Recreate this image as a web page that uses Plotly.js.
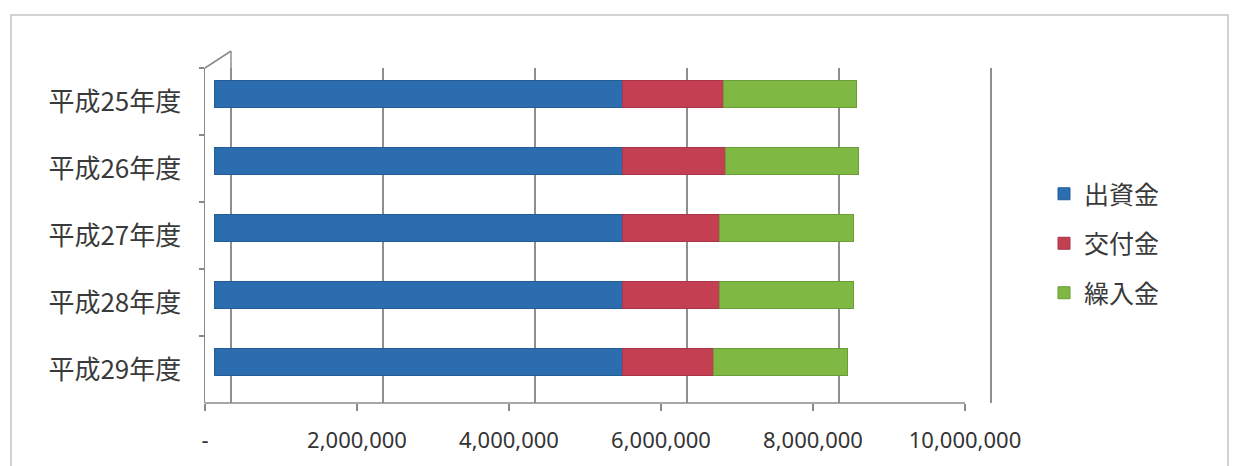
<!DOCTYPE html>
<html>
<head>
<meta charset="utf-8">
<script src="https://cdn.plot.ly/plotly-3.0.1.min.js"></script>
<style>
  html, body { margin: 0; padding: 0; background: #ffffff; }
  #chart { width: 1235px; height: 466px; }
</style>
</head>
<body>
<div id="chart"></div>
<script>
// ---- data ----
const categories = ['平成25年度', '平成26年度', '平成27年度', '平成28年度', '平成29年度'];
const seriesNames = ['出資金', '交付金', '繰入金'];
const shusshikin = [5380000, 5380000, 5380000, 5380000, 5380000];
const kofukin    = [1330000, 1350000, 1270000, 1270000, 1190000];
const kurireikin = [1740000, 1750000, 1760000, 1760000, 1760000];
const xTickVals  = [0, 2000000, 4000000, 6000000, 8000000, 10000000];
const xTickText  = ['-', '2,000,000', '4,000,000', '6,000,000', '8,000,000', '10,000,000'];
const gridVals   = [0, 2000000, 4000000, 6000000, 8000000, 10000000];

const colors = ['#2c6db0', '#c53f52', '#7fb843'];
const edgeColors = ['#245c96', '#a8354a', '#6a9c37'];
const values = [shusshikin, kofukin, kurireikin];

const traces = values.map((v, i) => ({
  type: 'bar',
  orientation: 'h',
  name: seriesNames[i],
  x: v,
  y: categories,
  xaxis: 'x2',
  yaxis: 'y2',
  width: 0.4,
  legendgroup: 'g' + i,
  marker: { color: colors[i], line: { width: 1, color: edgeColors[i] } },
  hoverinfo: 'x+y+name'
}));

// invisible helper traces so the front axis and the back-wall grid axis are drawn
traces.push({
  type: 'scatter', mode: 'none', x: [xTickVals[0]], y: [categories[0]],
  xaxis: 'x', yaxis: 'y', showlegend: false, hoverinfo: 'skip'
});
traces.push({
  type: 'scatter', mode: 'none', x: [gridVals[0]], y: [categories[0]],
  xaxis: 'x3', yaxis: 'y', showlegend: false, hoverinfo: 'skip'
});

// pixel geometry of the front plane
const L = 205, R = 1000, T = 68, B = 403;
const pxPerUnit = 76 / 1e6;
const frontMax = (R - L) / pxPerUnit;
const barShift = 9 / pxPerUnit;
const backShift = 26 / pxPerUnit;

function px2paperX(p) { return (p - L) / (R - L); }
function px2paperY(q) { return (B - q) / (B - T); }

const layout = {
  width: 1235,
  height: 466,
  margin: { l: L, r: 1235 - R, t: T, b: 466 - B, pad: 0 },
  paper_bgcolor: '#ffffff',
  plot_bgcolor: 'rgba(0,0,0,0)',
  barmode: 'stack',
  showlegend: true,
  font: { family: '"Noto Sans CJK JP", "Noto Sans", sans-serif', color: '#404040' },
  xaxis: {
    range: [0, frontMax],
    tickmode: 'array',
    tickvals: xTickVals,
    ticktext: xTickText,
    ticks: 'outside',
    ticklen: 7,
    tickcolor: '#8a8a8a',
    tickwidth: 1.5,
    ticklabelstandoff: 11,
    showgrid: false,
    zeroline: false,
    showline: false,
    tickfont: { family: '"Noto Sans", sans-serif', size: 22, color: '#333333' },
    fixedrange: true
  },
  xaxis2: {
    overlaying: 'x',
    range: [-barShift, frontMax - barShift],
    showgrid: false, zeroline: false, showline: false,
    showticklabels: false, ticks: '',
    fixedrange: true
  },
  xaxis3: {
    overlaying: 'x',
    range: [-backShift, frontMax - backShift],
    tickmode: 'array',
    tickvals: gridVals,
    showgrid: true,
    gridcolor: '#8f8f8f',
    gridwidth: 1.5,
    zeroline: false, showline: false,
    showticklabels: false, ticks: '',
    fixedrange: true
  },
  yaxis: {
    type: 'category',
    categoryorder: 'array',
    categoryarray: categories,
    range: [4.5, -0.5],
    tickson: 'boundaries',
    ticks: 'outside',
    ticklen: 5,
    tickcolor: '#8a8a8a',
    tickwidth: 1.5,
    ticklabelstandoff: 17,
    showgrid: false,
    zeroline: false,
    showline: true,
    linecolor: '#8a8a8a',
    linewidth: 1.5,
    tickfont: { family: '"Noto Sans CJK JP", sans-serif', size: 26, color: '#3a3a3a' },
    fixedrange: true
  },
  yaxis2: {
    type: 'category',
    categoryorder: 'array',
    categoryarray: categories,
    overlaying: 'y',
    range: [4.612, -0.388],
    showgrid: false, zeroline: false, showline: false,
    showticklabels: false, ticks: '',
    fixedrange: true
  },
  legend: {
    x: px2paperX(1044), xanchor: 'left',
    y: px2paperY(171), yanchor: 'top',
    traceorder: 'grouped',
    tracegroupgap: 14,
    font: { family: '"Noto Sans CJK JP", sans-serif', size: 25, color: '#3a3a3a' },
    bgcolor: 'rgba(0,0,0,0)',
    itemwidth: 30
  },
  shapes: [
    {
      // outer chart border
      type: 'rect', xref: 'paper', yref: 'paper',
      x0: px2paperX(11), x1: px2paperX(1228), y0: px2paperY(475), y1: px2paperY(15),
      line: { color: '#c4c4c4', width: 1.5 },
      fillcolor: 'rgba(0,0,0,0)', layer: 'below'
    },
    {
      // front floor edge (x axis line) from first to last tick
      type: 'line', xref: 'x', yref: 'paper',
      x0: xTickVals[0], x1: xTickVals[xTickVals.length - 1], y0: 0, y1: 0,
      line: { color: '#8a8a8a', width: 1.5 }
    },
    {
      // top-left wall corner of the 3D frame
      type: 'line', xref: 'paper', yref: 'paper',
      x0: 0, y0: 1, x1: px2paperX(231), y1: px2paperY(51),
      line: { color: '#8a8a8a', width: 1.5 }
    },
    {
      // back wall left edge extension above the plot area
      type: 'line', xref: 'paper', yref: 'paper',
      x0: px2paperX(231), y0: 1, x1: px2paperX(231), y1: px2paperY(51),
      line: { color: '#8f8f8f', width: 1.5 }
    }
  ]
};

Plotly.newPlot('chart', traces, layout, { displayModeBar: false, staticPlot: true });
</script>
</body>
</html>
